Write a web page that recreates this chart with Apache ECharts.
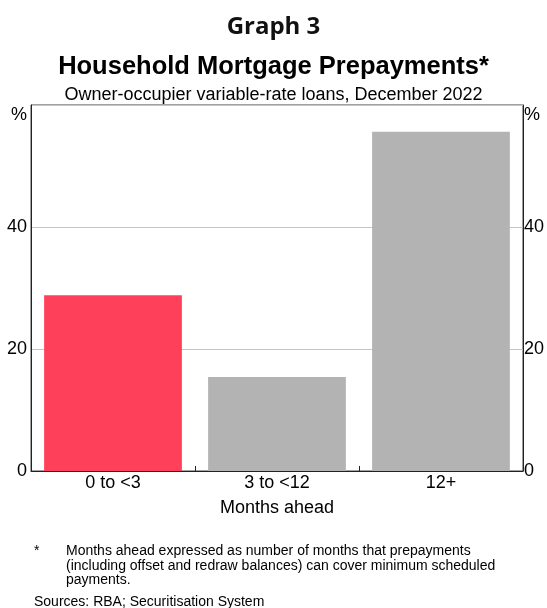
<!DOCTYPE html>
<html>
<head>
<meta charset="utf-8">
<script src="https://cdn.jsdelivr.net/npm/echarts@6/dist/echarts.min.js"></script>
<style>
  html, body { margin: 0; padding: 0; background: #fff; }
  #chart { width: 547px; height: 608px; }
</style>
</head>
<body>
<div id="chart"></div>
<script>
// data
var categories = ['0 to <3', '3 to <12', '12+'];
var shares = [28.8, 15.4, 55.6];
var barColours = ['#fe405b', '#b3b3b3', '#b3b3b3'];
var yTicks = [0, 20, 40, 60];

var font = 'Liberation Sans, Arial, sans-serif';

var chart = echarts.init(document.getElementById('chart'));

function pctLabel(v) {
    // top tick shows the unit instead of a number
    return v === yTicks[yTicks.length - 1] ? '{p|%}' : String(v);
}

function yAxisOpt(pos, margin) {
    return {
        type: 'value',
        position: pos,
        min: yTicks[0],
        max: yTicks[yTicks.length - 1],
        interval: 20,
        axisLine: { show: true, lineStyle: { color: '#222', width: 1 } },
        axisTick: { show: false },
        splitLine: { show: pos === 'left', lineStyle: { color: '#c4c4c4', width: 1 } },
        axisLabel: {
            margin: margin,
            color: '#000',
            fontFamily: font,
            fontSize: 18,
            formatter: pctLabel,
            rich: { p: { fontFamily: font, fontSize: 18, color: '#000', padding: [20, 0, 0, 0] } }
        }
    };
}

var option = {
    animation: false,
    backgroundColor: '#fff',
    title: [
        {
            text: 'Graph 3',
            left: 'center', top: 10,
            textStyle: { fontFamily: 'Open Sans, Noto Sans, sans-serif', fontWeight: 'bold', fontSize: 24, color: '#111' }
        },
        {
            text: 'Household Mortgage Prepayments*',
            left: 'center', top: 49,
            textStyle: { fontFamily: font, fontWeight: 'bold', fontSize: 25.5, color: '#000' }
        },
        {
            text: 'Owner-occupier variable-rate loans, December 2022',
            left: 'center', top: 81,
            textStyle: { fontFamily: font, fontWeight: 'normal', fontSize: 18, color: '#000' }
        },
        {
            text: '*',
            left: 29, top: 539,
            textStyle: { fontFamily: font, fontWeight: 'normal', fontSize: 14, color: '#000' }
        },
        {
            text: 'Months ahead expressed as number of months that prepayments\n(including offset and redraw balances) can cover minimum scheduled\npayments.',
            left: 61, top: 539,
            textStyle: { fontFamily: font, fontWeight: 'normal', fontSize: 14, lineHeight: 14.5, color: '#000' }
        },
        {
            text: 'Sources: RBA; Securitisation System',
            left: 29, top: 590,
            textStyle: { fontFamily: font, fontWeight: 'normal', fontSize: 14, color: '#000' }
        }
    ],
    grid: {
        left: 31, right: 22, top: 105, bottom: 137,
        show: true, borderColor: '#444', borderWidth: 1
    },
    xAxis: {
        type: 'category',
        data: categories,
        axisLine: { show: true, lineStyle: { color: '#222', width: 1 } },
        axisTick: { show: true, inside: true, length: 5, lineStyle: { color: '#222' } },
        axisLabel: { margin: 3, color: '#000', fontFamily: font, fontSize: 18 },
        name: 'Months ahead',
        nameLocation: 'middle',
        nameGap: 28,
        nameTextStyle: { color: '#000', fontFamily: font, fontSize: 18 }
    },
    yAxis: [yAxisOpt('left', 4), yAxisOpt('right', 1)],
    series: [{
        type: 'bar',
        yAxisIndex: 0,
        barCategoryGap: '16%',
        data: shares.map(function (v, i) {
            return { value: v, itemStyle: { color: barColours[i] } };
        })
    }]
};

chart.setOption(option);
</script>
</body>
</html>
